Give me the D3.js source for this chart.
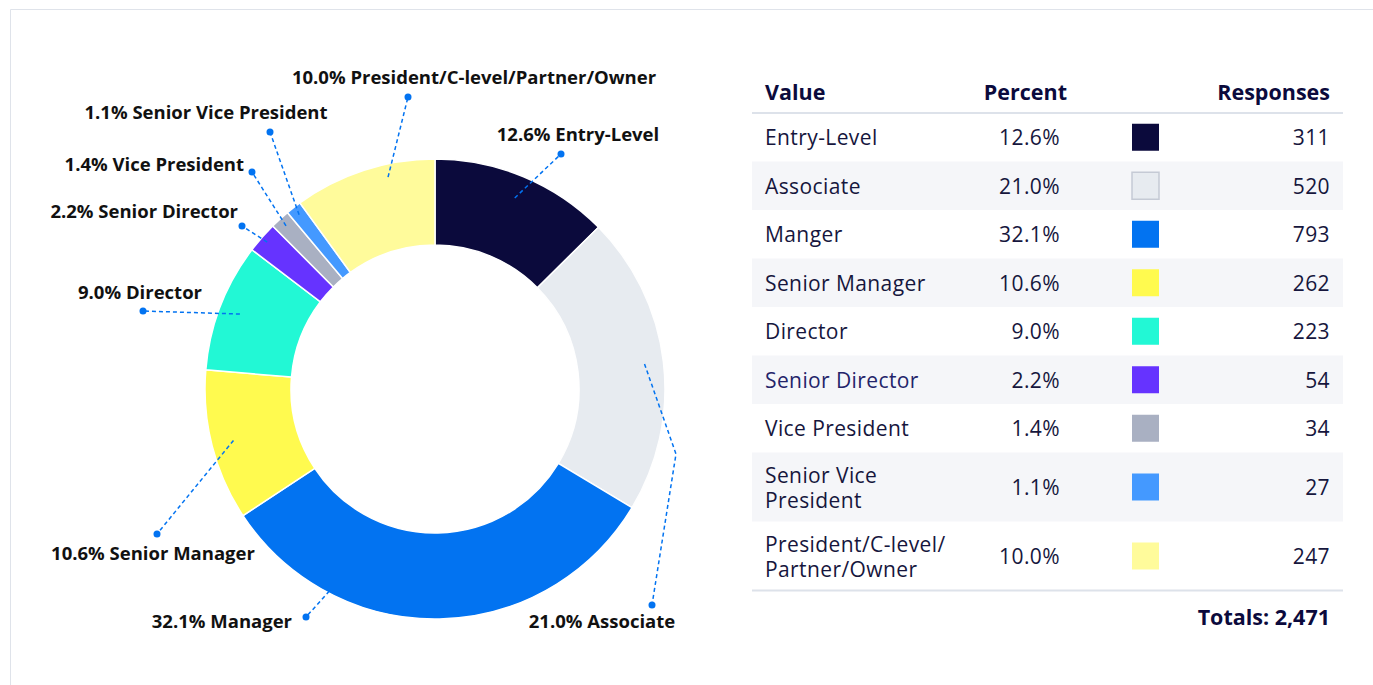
<!DOCTYPE html>
<html>
<head>
<meta charset="utf-8">
<script src="https://cdn.jsdelivr.net/npm/d3@7"></script>
<style>
  body { margin: 0; background: #fff; }
  svg { display: block; font-family: "Open Sans", "Noto Sans", sans-serif; }
</style>
</head>
<body>
<div id="chart"></div>
<script>
// data
const categories = ["Entry-Level", "Associate", "Manger", "Senior Manager", "Director",
    "Senior Director", "Vice President", "Senior Vice President", "President/C-level/Partner/Owner"];
const labelNames = ["Entry-Level", "Associate", "Manager", "Senior Manager", "Director",
    "Senior Director", "Vice President", "Senior Vice President", "President/C-level/Partner/Owner"];
const tableLines = [["Entry-Level"], ["Associate"], ["Manger"], ["Senior Manager"], ["Director"],
    ["Senior Director"], ["Vice President"], ["Senior Vice", "President"], ["President/C-level/", "Partner/Owner"]];
const responses = [311, 520, 793, 262, 223, 54, 34, 27, 247];
const colors = ["#0b0a3c", "#e7ebf0", "#0273f1", "#fffa4f", "#22f8d5", "#6633ff", "#a9b0c2", "#4499ff", "#fffb9b"];

// label placement (relative to donut centre): start radius, optional angle, dot, text position
const labelLayout = [
    { r: 207, dot: [126, -235], text: [143, -248], anchor: "middle" },
    { r: 211, elbow: [241, 65], dot: [217, 216], text: [167, 239], anchor: "middle" },
    { r: 228, a: 207.6, dot: [-129, 228], text: [-143, 239], anchor: "end" },
    { r: 208, dot: [-278, 145], text: [-282, 171], anchor: "middle" },
    { r: 209, dot: [-292, -78], text: [-295, -90], anchor: "middle" },
    { r: 223, dot: [-193, -163], text: [-197, -171], anchor: "end" },
    { r: 221, dot: [-183, -217], text: [-191, -218], anchor: "end" },
    { r: 221, dot: [-165, -257], text: [-229, -270], anchor: "middle" },
    { r: 217, a: -12.5, dot: [-27, -292], text: [39, -305], anchor: "middle" }
];

const width = 1373, height = 685;
const total = d3.sum(responses);
const fmtPct = v => (v / total * 100).toFixed(1) + "%";

const svg = d3.select("#chart").append("svg")
    .attr("width", width)
    .attr("height", height);

// panel border
svg.append("path")
    .attr("d", `M10.5,${height} V9.5 H${width}`)
    .attr("fill", "none")
    .attr("stroke", "#dfe3ea")
    .attr("stroke-width", 1);

// ---- donut ----
const cx = 435, cy = 389;
const outerR = 230, innerR = 144;

const pie = d3.pie().sort(null).value(d => d)(responses);
const arc = d3.arc().innerRadius(innerR).outerRadius(outerR);

const g = svg.append("g").attr("transform", `translate(${cx},${cy})`);

g.selectAll("path.slice")
    .data(pie)
    .join("path")
    .attr("class", "slice")
    .attr("d", arc)
    .attr("fill", (d, i) => colors[i])
    .attr("stroke", "#fff")
    .attr("stroke-width", 1.5);

const lineColor = "#0273f1";
pie.forEach((d, i) => {
    const L = labelLayout[i];
    const ang = L.a !== undefined ? L.a * Math.PI / 180 : (d.startAngle + d.endAngle) / 2;
    const start = [L.r * Math.sin(ang), -L.r * Math.cos(ang)];
    const pts = [start];
    if (L.elbow) pts.push(L.elbow);
    pts.push(L.dot);

    g.append("path")
        .attr("d", d3.line()(pts))
        .attr("fill", "none")
        .attr("stroke", lineColor)
        .attr("stroke-width", 1.5)
        .attr("stroke-dasharray", "4,3");

    g.append("circle")
        .attr("cx", L.dot[0])
        .attr("cy", L.dot[1])
        .attr("r", 3.5)
        .attr("fill", lineColor);

    g.append("text")
        .attr("x", L.text[0])
        .attr("y", L.text[1])
        .attr("text-anchor", L.anchor)
        .attr("font-size", 18.5)
        .attr("font-weight", 700)
        .attr("fill", "#111")
        .text(fmtPct(responses[i]) + " " + labelNames[i]);
});

// ---- table ----
const tLeft = 752, tRight = 1343;
const colValue = 765, colPct = 1060, colSwatch = 1132, colResp = 1330;
const headColor = "#0b0a3c", bodyColor = "#16163d";
const bodySize = 21, bodySpacing = "0.4px";
const table = svg.append("g");

table.append("text").attr("x", colValue).attr("y", 100).text("Value");
table.append("text").attr("x", 1067).attr("y", 100).attr("text-anchor", "end").text("Percent");
table.append("text").attr("x", colResp).attr("y", 100).attr("text-anchor", "end").text("Responses");
table.selectAll("text")
    .attr("font-size", 21.5)
    .attr("font-weight", 700)
    .attr("fill", headColor);

let y = 113;
const rows = categories.map((c, i) => {
    const h = tableLines[i].length > 1 ? 69 : 48.5;
    const r = { i, y, h };
    y += h;
    return r;
});
const tableBottom = y;

rows.forEach(r => {
    const row = table.append("g");
    if (r.i % 2 === 1) {
        row.append("rect")
            .attr("x", tLeft).attr("y", r.y)
            .attr("width", tRight - tLeft).attr("height", r.h)
            .attr("fill", "#f5f6f9");
    }
    const mid = r.y + r.h / 2;
    const lines = tableLines[r.i];
    const label = row.append("text")
        .attr("x", colValue)
        .attr("y", mid + 8 - (lines.length - 1) * 12.5)
        .attr("font-size", bodySize)
        .attr("letter-spacing", bodySpacing)
        .attr("fill", r.i === 5 ? "#24246a" : bodyColor);
    lines.forEach((t, k) => {
        label.append("tspan")
            .attr("x", colValue)
            .attr("dy", k === 0 ? 0 : 25)
            .text(t);
    });
    row.append("text")
        .attr("x", colPct).attr("y", mid + 8)
        .attr("text-anchor", "end")
        .attr("font-size", bodySize)
        .attr("letter-spacing", bodySpacing)
        .attr("fill", bodyColor)
        .text(fmtPct(responses[r.i]));
    row.append("rect")
        .attr("x", colSwatch).attr("y", mid - 13.5)
        .attr("width", 27).attr("height", 27)
        .attr("fill", colors[r.i])
        .attr("stroke", r.i === 1 ? "#c5cad5" : "none")
        .attr("stroke-width", 1.5);
    row.append("text")
        .attr("x", colResp).attr("y", mid + 8)
        .attr("text-anchor", "end")
        .attr("font-size", bodySize)
        .attr("letter-spacing", bodySpacing)
        .attr("fill", bodyColor)
        .text(d3.format(",")(responses[r.i]));
});

// header and bottom rules
[113, tableBottom].forEach(yy => {
    table.append("line")
        .attr("x1", tLeft).attr("x2", tRight)
        .attr("y1", yy).attr("y2", yy)
        .attr("stroke", "#dde2ea")
        .attr("stroke-width", 2);
});

table.append("text")
    .attr("x", colResp).attr("y", 625)
    .attr("text-anchor", "end")
    .attr("font-size", 21.5)
    .attr("font-weight", 700)
    .attr("fill", headColor)
    .text("Totals: " + d3.format(",")(total));
</script>
</body>
</html>
